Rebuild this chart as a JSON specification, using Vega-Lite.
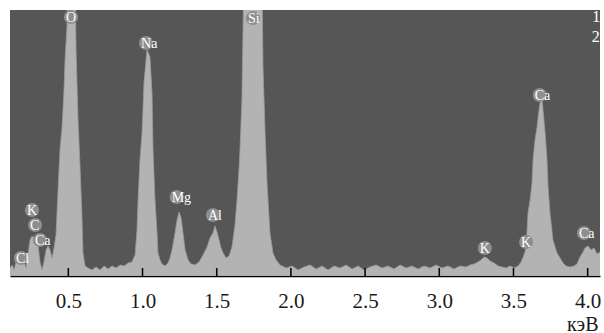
{
  "$schema": "https://vega.github.io/schema/vega-lite/v6.json",
  "width": 590,
  "height": 266,
  "autosize": "none",
  "padding": {"left": 10, "top": 10, "right": 4, "bottom": 57},
  "background": "white",
  "config": {
    "view": {"fill": "#565656", "stroke": null},
    "axis": {"grid": false}
  },
  "datasets": {
    "spectrum": [
      {"keV": 0.107, "counts": 8}, {"keV": 0.121, "counts": 11}, {"keV": 0.134, "counts": 6}, {"keV": 0.148, "counts": 14},
      {"keV": 0.161, "counts": 18}, {"keV": 0.175, "counts": 21}, {"keV": 0.188, "counts": 18}, {"keV": 0.202, "counts": 14},
      {"keV": 0.215, "counts": 8}, {"keV": 0.228, "counts": 21}, {"keV": 0.242, "counts": 36}, {"keV": 0.255, "counts": 40},
      {"keV": 0.269, "counts": 38}, {"keV": 0.282, "counts": 40}, {"keV": 0.296, "counts": 31}, {"keV": 0.309, "counts": 14},
      {"keV": 0.323, "counts": 6}, {"keV": 0.336, "counts": 14}, {"keV": 0.350, "counts": 26}, {"keV": 0.363, "counts": 30},
      {"keV": 0.377, "counts": 26}, {"keV": 0.390, "counts": 18}, {"keV": 0.404, "counts": 28}, {"keV": 0.417, "counts": 41},
      {"keV": 0.431, "counts": 86}, {"keV": 0.444, "counts": 126}, {"keV": 0.458, "counts": 149}, {"keV": 0.471, "counts": 186},
      {"keV": 0.478, "counts": 216}, {"keV": 0.491, "counts": 249}, {"keV": 0.498, "counts": 300}, {"keV": 0.545, "counts": 300},
      {"keV": 0.552, "counts": 226}, {"keV": 0.565, "counts": 159}, {"keV": 0.579, "counts": 109}, {"keV": 0.592, "counts": 59},
      {"keV": 0.599, "counts": 23}, {"keV": 0.613, "counts": 10}, {"keV": 0.633, "counts": 8}, {"keV": 0.660, "counts": 6},
      {"keV": 0.687, "counts": 9}, {"keV": 0.714, "counts": 6}, {"keV": 0.741, "counts": 10}, {"keV": 0.768, "counts": 7},
      {"keV": 0.795, "counts": 10}, {"keV": 0.822, "counts": 8}, {"keV": 0.849, "counts": 11}, {"keV": 0.876, "counts": 10},
      {"keV": 0.903, "counts": 13}, {"keV": 0.929, "counts": 14}, {"keV": 0.950, "counts": 21}, {"keV": 0.963, "counts": 46},
      {"keV": 0.970, "counts": 76}, {"keV": 0.983, "counts": 116}, {"keV": 0.997, "counts": 143}, {"keV": 1.010, "counts": 193},
      {"keV": 1.024, "counts": 216}, {"keV": 1.030, "counts": 226}, {"keV": 1.037, "counts": 224}, {"keV": 1.050, "counts": 219},
      {"keV": 1.057, "counts": 201}, {"keV": 1.064, "counts": 183}, {"keV": 1.071, "counts": 126}, {"keV": 1.084, "counts": 76},
      {"keV": 1.098, "counts": 43}, {"keV": 1.104, "counts": 23}, {"keV": 1.118, "counts": 16}, {"keV": 1.131, "counts": 12},
      {"keV": 1.152, "counts": 10}, {"keV": 1.172, "counts": 13}, {"keV": 1.185, "counts": 18}, {"keV": 1.199, "counts": 26},
      {"keV": 1.219, "counts": 43}, {"keV": 1.233, "counts": 56}, {"keV": 1.246, "counts": 64}, {"keV": 1.260, "counts": 58},
      {"keV": 1.273, "counts": 43}, {"keV": 1.287, "counts": 26}, {"keV": 1.307, "counts": 16}, {"keV": 1.327, "counts": 12},
      {"keV": 1.354, "counts": 11}, {"keV": 1.381, "counts": 14}, {"keV": 1.408, "counts": 21}, {"keV": 1.435, "counts": 29},
      {"keV": 1.455, "counts": 38}, {"keV": 1.475, "counts": 43}, {"keV": 1.489, "counts": 50}, {"keV": 1.502, "counts": 44},
      {"keV": 1.516, "counts": 36}, {"keV": 1.529, "counts": 28}, {"keV": 1.543, "counts": 23}, {"keV": 1.563, "counts": 18},
      {"keV": 1.583, "counts": 20}, {"keV": 1.603, "counts": 29}, {"keV": 1.623, "counts": 51}, {"keV": 1.637, "counts": 76},
      {"keV": 1.650, "counts": 106}, {"keV": 1.657, "counts": 126}, {"keV": 1.670, "counts": 176}, {"keV": 1.677, "counts": 243},
      {"keV": 1.684, "counts": 300}, {"keV": 1.805, "counts": 300}, {"keV": 1.812, "counts": 209}, {"keV": 1.826, "counts": 143},
      {"keV": 1.839, "counts": 93}, {"keV": 1.859, "counts": 43}, {"keV": 1.879, "counts": 23}, {"keV": 1.900, "counts": 16},
      {"keV": 1.927, "counts": 11}, {"keV": 1.968, "counts": 8}, {"keV": 2.008, "counts": 10}, {"keV": 2.048, "counts": 6},
      {"keV": 2.089, "counts": 9}, {"keV": 2.129, "counts": 11}, {"keV": 2.170, "counts": 7}, {"keV": 2.210, "counts": 10},
      {"keV": 2.250, "counts": 6}, {"keV": 2.291, "counts": 10}, {"keV": 2.331, "counts": 8}, {"keV": 2.372, "counts": 11},
      {"keV": 2.412, "counts": 7}, {"keV": 2.453, "counts": 10}, {"keV": 2.493, "counts": 6}, {"keV": 2.533, "counts": 9},
      {"keV": 2.574, "counts": 11}, {"keV": 2.614, "counts": 8}, {"keV": 2.655, "counts": 10}, {"keV": 2.695, "counts": 7},
      {"keV": 2.736, "counts": 11}, {"keV": 2.776, "counts": 8}, {"keV": 2.816, "counts": 10}, {"keV": 2.857, "counts": 7},
      {"keV": 2.897, "counts": 10}, {"keV": 2.938, "counts": 8}, {"keV": 2.978, "counts": 11}, {"keV": 3.018, "counts": 8},
      {"keV": 3.059, "counts": 10}, {"keV": 3.099, "counts": 7}, {"keV": 3.140, "counts": 10}, {"keV": 3.180, "counts": 9},
      {"keV": 3.207, "counts": 11}, {"keV": 3.234, "counts": 12}, {"keV": 3.261, "counts": 14}, {"keV": 3.281, "counts": 16},
      {"keV": 3.302, "counts": 19}, {"keV": 3.322, "counts": 18}, {"keV": 3.342, "counts": 15}, {"keV": 3.369, "counts": 13},
      {"keV": 3.396, "counts": 10}, {"keV": 3.423, "counts": 9}, {"keV": 3.450, "counts": 8}, {"keV": 3.477, "counts": 10},
      {"keV": 3.504, "counts": 8}, {"keV": 3.531, "counts": 10}, {"keV": 3.551, "counts": 14}, {"keV": 3.571, "counts": 21},
      {"keV": 3.585, "counts": 28}, {"keV": 3.598, "counts": 63}, {"keV": 3.612, "counts": 76}, {"keV": 3.625, "counts": 93},
      {"keV": 3.632, "counts": 116}, {"keV": 3.645, "counts": 136}, {"keV": 3.659, "counts": 149}, {"keV": 3.666, "counts": 159},
      {"keV": 3.679, "counts": 173}, {"keV": 3.693, "counts": 176}, {"keV": 3.699, "counts": 166}, {"keV": 3.713, "counts": 143},
      {"keV": 3.726, "counts": 116}, {"keV": 3.733, "counts": 89}, {"keV": 3.746, "counts": 63}, {"keV": 3.766, "counts": 36},
      {"keV": 3.793, "counts": 23}, {"keV": 3.814, "counts": 18}, {"keV": 3.834, "counts": 13}, {"keV": 3.854, "counts": 10},
      {"keV": 3.881, "counts": 9}, {"keV": 3.908, "counts": 10}, {"keV": 3.928, "counts": 12}, {"keV": 3.948, "counts": 19},
      {"keV": 3.969, "counts": 24}, {"keV": 3.982, "counts": 28}, {"keV": 4.002, "counts": 30}, {"keV": 4.023, "counts": 26},
      {"keV": 4.043, "counts": 28}, {"keV": 4.063, "counts": 22}, {"keV": 4.083, "counts": 24}
    ],
    "peaks": [
      {"keV": 0.518, "counts": 259, "element": "O"},
      {"keV": 1.024, "counts": 233, "element": "Na"},
      {"keV": 1.744, "counts": 258, "element": "Si"},
      {"keV": 1.230, "counts": 79, "element": "Mg"},
      {"keV": 1.475, "counts": 61, "element": "Al"},
      {"keV": 0.255, "counts": 66, "element": "K"},
      {"keV": 0.276, "counts": 51, "element": "C"},
      {"keV": 0.309, "counts": 36, "element": "Ca"},
      {"keV": 0.181, "counts": 18, "element": "Cl"},
      {"keV": 3.307, "counts": 28, "element": "K"},
      {"keV": 3.585, "counts": 34, "element": "K"},
      {"keV": 3.677, "counts": 181, "element": "Ca"},
      {"keV": 3.975, "counts": 43, "element": "Ca"}
    ],
    "cornerlabels": [
      {"keV": 4.058, "counts": 259, "label": "1"},
      {"keV": 4.055, "counts": 239, "label": "2"}
    ],
    "tickpos": [
      {"keV": 0.5, "mid": 4}, {"keV": 1.0, "mid": 4}, {"keV": 1.5, "mid": 4}, {"keV": 2.0, "mid": 4},
      {"keV": 2.5, "mid": 4}, {"keV": 3.0, "mid": 4}, {"keV": 3.5, "mid": 4}, {"keV": 4.0, "mid": 4}
    ]
  },
  "encoding": {
    "x": {
      "field": "keV", "type": "quantitative",
      "scale": {"domain": [0.107, 4.083], "nice": false, "zero": false},
      "axis": {
        "values": [0.5, 1.0, 1.5, 2.0, 2.5, 3.0, 3.5, 4.0],
        "format": ".1f",
        "title": "кэВ",
        "titleFont": "Liberation Serif, Times New Roman, serif", "titleFontSize": 20, "titleFontWeight": "normal", "titleColor": "#1a1a1a",
        "titleAnchor": "end", "titleAlign": "right", "titleBaseline": "alphabetic",
        "titleX": 588, "titleY": 54,
        "labelFont": "Liberation Serif, Times New Roman, serif", "labelFontSize": 21, "labelColor": "#1a1a1a",
        "labelPadding": 14,
        "domainColor": "#000000", "domainWidth": 1.5,
        "ticks": false
      }
    },
    "y": {
      "field": "counts", "type": "quantitative",
      "scale": {"domain": [0, 266], "nice": false, "zero": true},
      "axis": null
    }
  },
  "layer": [
    {
      "data": {"name": "spectrum"},
      "mark": {"type": "area", "color": "#dcdcdc", "clip": true, "interpolate": "linear",
               "line": {"color": "#9a9a9a", "strokeWidth": 0.8}}
    },
    {
      "data": {"name": "tickpos"},
      "mark": {"type": "tick", "orient": "vertical", "size": 8, "thickness": 1.5, "color": "#000000", "opacity": 1},
      "encoding": {
        "y": {"field": "mid", "type": "quantitative"}
      }
    },
    {
      "data": {"name": "peaks"},
      "mark": {"type": "circle", "size": 200, "color": "#8e8e8e", "opacity": 1, "clip": true}
    },
    {
      "data": {"name": "peaks"},
      "mark": {"type": "text", "align": "left", "dx": -5, "baseline": "middle", "dy": 1,
               "font": "Liberation Serif, Times New Roman, serif", "fontSize": 14, "color": "#ffffff", "clip": true},
      "encoding": {"text": {"field": "element"}}
    },
    {
      "data": {"name": "cornerlabels"},
      "mark": {"type": "text", "align": "center", "baseline": "middle",
               "font": "Liberation Serif, Times New Roman, serif", "fontSize": 16, "color": "#ffffff"},
      "encoding": {"text": {"field": "label"}}
    }
  ]
}
